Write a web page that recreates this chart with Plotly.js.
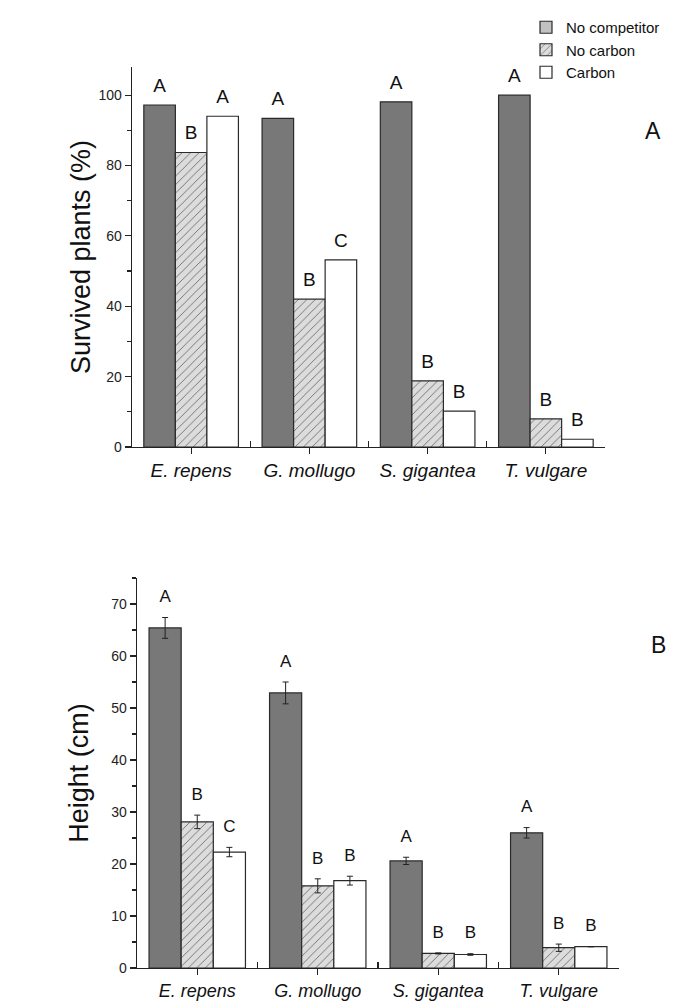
<!DOCTYPE html>
<html>
<head>
<meta charset="utf-8">
<script src="https://cdn.plot.ly/plotly-3.0.1.min.js"></script>
<style>html,body{margin:0;padding:0;background:#fff;}#chart{width:689px;height:1005px;}</style>
</head>
<body>
<div id="chart"></div>
<script>
const categories = ['E. repens', 'G. mollugo', 'S. gigantea', 'T. vulgare'];
const seriesNames = ['No competitor', 'No carbon', 'Carbon'];

// Panel A: survived plants (%)
const survNoCompetitor = [97.2, 93.4, 98.1, 100.0];
const survNoCarbon = [83.7, 42.0, 18.8, 8.0];
const survCarbon = [94.0, 53.2, 10.2, 2.2];
const survLettersNoCompetitor = ['A', 'A', 'A', 'A'];
const survLettersNoCarbon = ['B', 'B', 'B', 'B'];
const survLettersCarbon = ['A', 'C', 'B', 'B'];

// Panel B: height (cm)
const heightNoCompetitor = [65.4, 52.9, 20.6, 26.0];
const heightNoCompetitorErr = [2.0, 2.1, 0.7, 1.0];
const heightNoCarbon = [28.1, 15.8, 2.8, 3.9];
const heightNoCarbonErr = [1.3, 1.35, 0.1, 0.7];
const heightCarbon = [22.3, 16.8, 2.6, 4.1];
const heightCarbonErr = [0.9, 0.85, 0.15, 0.0];
const heightLettersNoCompetitor = ['A', 'A', 'A', 'A'];
const heightLettersNoCarbon = ['B', 'B', 'B', 'B'];
const heightLettersCarbon = ['C', 'B', 'B', 'B'];

const yTicksA = [0, 20, 40, 60, 80, 100];
const yTicksB = [0, 10, 20, 30, 40, 50, 60, 70];

const idx = categories.map((c, i) => i);
const boundaries = categories.slice(1).map((c, i) => i + 0.5);
const tickText = categories.map(c => '<i>' + c + '</i>');

const styles = [
  {color: '#787878', line: {color: '#2a2a2a', width: 1.2}},
  {color: '#dcdcdc', line: {color: '#2a2a2a', width: 1.2},
   pattern: {shape: '/', bgcolor: '#dcdcdc', fgcolor: '#6e6e6e', size: 6, solidity: 0.15}},
  {color: '#ffffff', line: {color: '#2a2a2a', width: 1.2}}
];
const legendColors = ['#c2c2c2', '#dcdcdc', '#ffffff'];

const errStyle = {type: 'data', color: '#222', thickness: 1, width: 3};

function bar(y, s, xa, ya, err) {
  const t = {type: 'bar', x: idx, y: y, name: seriesNames[s], marker: styles[s],
    xaxis: xa, yaxis: ya, showlegend: false, hoverinfo: 'y'};
  if (err) t.error_y = Object.assign({array: err, visible: true}, errStyle);
  return t;
}
function letters(y, err, txt, xa, ya, size, msize) {
  return {type: 'scatter', mode: 'markers+text', x: idx,
    y: y.map((v, i) => v + (err ? err[i] : 0)), text: txt,
    textposition: 'top center', textfont: {family: 'Liberation Sans, Arial, sans-serif', size: size, color: '#111'},
    marker: {size: msize, opacity: 0}, xaxis: xa, yaxis: ya, showlegend: false,
    hoverinfo: 'skip', cliponaxis: false};
}

const data = [
  bar(survNoCompetitor, 0, 'x', 'y'),
  bar(survNoCarbon, 1, 'x', 'y'),
  bar(survCarbon, 2, 'x', 'y'),
  letters(survNoCompetitor, null, survLettersNoCompetitor, 'x', 'y', 19, 12),
  letters(survNoCarbon, null, survLettersNoCarbon, 'x', 'y', 19, 12),
  letters(survCarbon, null, survLettersCarbon, 'x', 'y', 19, 12),
  bar(heightNoCompetitor, 0, 'x2', 'y2', heightNoCompetitorErr),
  bar(heightNoCarbon, 1, 'x2', 'y2', heightNoCarbonErr),
  bar(heightCarbon, 2, 'x2', 'y2', heightCarbonErr),
  letters(heightNoCompetitor, heightNoCompetitorErr, heightLettersNoCompetitor, 'x2', 'y2', 17, 16),
  letters(heightNoCarbon, heightNoCarbonErr, heightLettersNoCarbon, 'x2', 'y2', 17, 16),
  letters(heightCarbon, heightCarbonErr, heightLettersCarbon, 'x2', 'y2', 17, 16)
];
// legend entries (draw nothing on a hidden axis)
seriesNames.forEach((n, s) => {
  const m = Object.assign({}, styles[s], {color: legendColors[s]});
  if (s === 1) m.pattern = styles[1].pattern;
  data.push({type: 'bar', x: [null], y: [null], name: n, marker: m,
    xaxis: 'x3', yaxis: 'y3', showlegend: true, hoverinfo: 'skip'});
});

const tickFont = {family: 'Liberation Sans Narrow, Arial Narrow, Liberation Sans, sans-serif', size: 14, color: '#222'};
const catFont = {family: 'Liberation Sans, Arial, sans-serif', size: 19, color: '#111'};

function xAxis(domain, anchor, fontSize) {
  return {domain: domain, anchor: anchor, range: [-0.5, 3.5], tickmode: 'array',
    tickvals: idx, ticktext: tickText, ticks: 'outside', ticklen: 6, tickwidth: 1.2, tickcolor: '#222',
    minor: {tickmode: 'array', tickvals: boundaries, ticks: 'inside', ticklen: 6, tickwidth: 1.2, tickcolor: '#222'},
    showline: true, linecolor: '#222', linewidth: 1.4, showgrid: false, zeroline: false,
    tickfont: Object.assign({}, catFont, {size: fontSize}), fixedrange: true};
}
function yAxis(domain, anchor, range, ticks, minorD, title, standoff) {
  return {domain: domain, anchor: anchor, range: range, tickmode: 'array', tickvals: ticks,
    ticks: 'outside', ticklen: 6, tickwidth: 1.2, tickcolor: '#222',
    minor: {dtick: minorD, tick0: minorD / 2, ticks: 'outside', ticklen: 4, tickwidth: 1.2, tickcolor: '#222'},
    showline: true, linecolor: '#222', linewidth: 1.4, showgrid: false, zeroline: false,
    tickfont: tickFont,
    title: {text: title, font: {family: 'Liberation Sans, Arial, sans-serif', size: 27, color: '#111'}, standoff: standoff},
    automargin: false, fixedrange: true};
}

const layout = {
  width: 689, height: 1005,
  margin: {l: 0, r: 0, t: 0, b: 0},
  paper_bgcolor: '#fff', plot_bgcolor: 'rgba(0,0,0,0)',
  barmode: 'group', bargap: 0.2, bargroupgap: 0,
  scattermode: 'group', scattergap: 0.2,
  xaxis: xAxis([132 / 689, 605 / 689], 'y', 19),
  yaxis: yAxis([1 - 447 / 1005, 1 - 67 / 1005], 'x', [0, 108], yTicksA, 20, 'Survived plants (%)', 0),
  xaxis2: xAxis([137 / 689, 619 / 689], 'y2', 18),
  yaxis2: yAxis([1 - 968 / 1005, 1 - 578 / 1005], 'x2', [0, 75], yTicksB, 10, 'Height (cm)', 14),
  xaxis3: {domain: [0.97, 0.99], anchor: 'y3', visible: false},
  yaxis3: {domain: [0.5, 0.51], anchor: 'x3', visible: false},
  showlegend: true,
  legend: {x: 526 / 689, xanchor: 'left', y: 1 - 11 / 1005, yanchor: 'top',
    font: {family: 'Liberation Sans, Arial, sans-serif', size: 15, color: '#111'},
    bgcolor: 'rgba(0,0,0,0)', itemwidth: 30, traceorder: 'normal'},
  annotations: [
    {text: 'A', xref: 'paper', yref: 'paper', x: 663 / 689, y: 1 - 116 / 1005, showarrow: false,
     font: {family: 'Liberation Sans, Arial, sans-serif', size: 23, color: '#111'}},
    {text: 'B', xref: 'paper', yref: 'paper', x: 668 / 689, y: 1 - 645 / 1005, showarrow: false,
     font: {family: 'Liberation Sans, Arial, sans-serif', size: 23, color: '#111'}}
  ]
};

Plotly.newPlot('chart', data, layout, {displayModeBar: false, staticPlot: true});
</script>
</body>
</html>
